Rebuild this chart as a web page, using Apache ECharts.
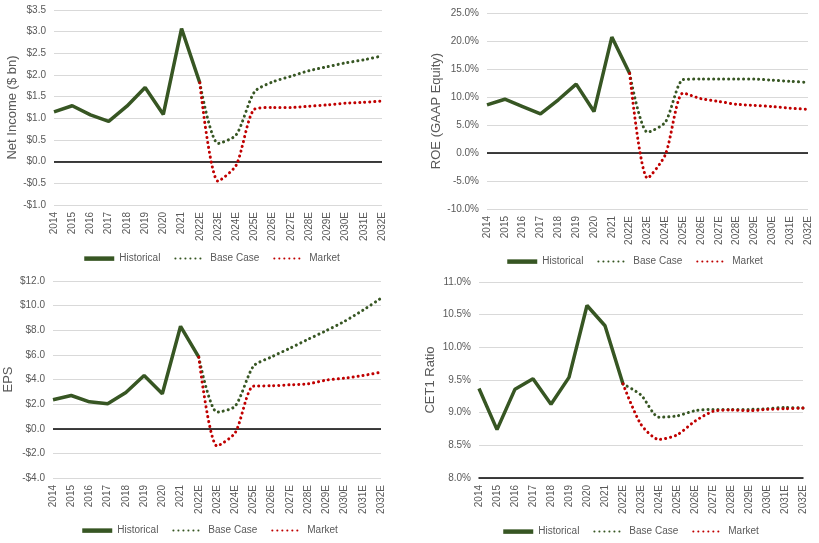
<!DOCTYPE html>
<html style="height: 100%">
<head>
<meta charset="utf-8">
<script src="https://cdn.jsdelivr.net/npm/echarts@6/dist/echarts.min.js"></script>
</head>
<body style="height: 100%; margin: 0; background: #fff">
<div id="container" style="width: 819px; height: 543px"></div>
<script type="text/javascript">
// categories
var years = ['2014', '2015', '2016', '2017', '2018', '2019', '2020', '2021',
  '2022E', '2023E', '2024E', '2025E', '2026E', '2027E', '2028E', '2029E', '2030E', '2031E', '2032E'];

// Net Income ($ bn): historical 2014-2022E, scenarios 2022E-2032E
var niHist = [1.15, 1.29, 1.08, 0.93, 1.28, 1.71, 1.09, 3.07, 1.82];
var niBase = [1.82, 0.42, 0.62, 1.61, 1.84, 1.97, 2.10, 2.19, 2.28, 2.35, 2.44];
var niMarket = [1.82, -0.45, -0.08, 1.21, 1.25, 1.25, 1.28, 1.31, 1.35, 1.37, 1.40];

// ROE (GAAP Equity), %
var roeHist = [8.6, 9.6, 8.3, 7.0, 9.5, 12.3, 7.4, 20.7, 14.2];
var roeBase = [14.2, 3.7, 5.5, 13.1, 13.2, 13.2, 13.2, 13.2, 13.0, 12.8, 12.6];
var roeMarket = [14.2, -4.5, -0.3, 10.7, 9.7, 9.2, 8.7, 8.5, 8.3, 8.0, 7.8];

// EPS ($)
var epsHist = [2.35, 2.70, 2.19, 2.03, 2.95, 4.32, 2.84, 8.32, 5.81];
var epsBase = [5.81, 1.35, 1.84, 5.08, 5.84, 6.54, 7.27, 7.97, 8.73, 9.62, 10.6];
var epsMarket = [5.81, -1.40, -0.32, 3.46, 3.49, 3.57, 3.65, 3.95, 4.11, 4.32, 4.60];

// CET1 Ratio, %
var cetHist = [9.37, 8.74, 9.36, 9.52, 9.13, 9.54, 10.64, 10.33, 9.44];
var cetBase = [9.44, 9.27, 8.93, 8.95, 9.03, 9.05, 9.05, 9.05, 9.06, 9.08, 9.07];
var cetMarket = [9.44, 8.82, 8.59, 8.66, 8.87, 9.02, 9.04, 9.03, 9.05, 9.06, 9.07];

var dom = document.getElementById('container');
var myChart = echarts.init(dom);

var GREEN = '#375623';
var RED = '#c00000';
var GREY = '#595959';
var FONT = 'Liberation Sans';
var DOTS = [0.1, 4.9];

function padHist(arr) {
  var out = arr.slice();
  while (out.length < years.length) out.push(null);
  return out;
}
function padScen(arr) {
  var out = [];
  for (var i = 0; i < years.length - arr.length; i++) out.push(null);
  return out.concat(arr);
}
function money(v) {
  return (v < 0 ? '-$' : '$') + Math.abs(v).toFixed(1);
}
function pct(v) {
  return v.toFixed(1) + '%';
}

var panels = [
  { title: 'Net Income ($ bn)', hist: niHist, base: niBase, market: niMarket,
    min: -1, max: 3.5, interval: 0.5, fmt: money, zero: true, gap: 34,
    grid: { left: 54, top: 10, width: 328, height: 195 }, legend: { left: 77, top: 248 } },
  { title: 'ROE (GAAP Equity)', hist: roeHist, base: roeBase, market: roeMarket,
    min: -10, max: 25, interval: 5, fmt: pct, zero: true, gap: 42,
    grid: { left: 487, top: 13, width: 321, height: 196 }, legend: { left: 500, top: 251 } },
  { title: 'EPS', hist: epsHist, base: epsBase, market: epsMarket,
    min: -4, max: 12, interval: 2, fmt: money, zero: true, gap: 38,
    grid: { left: 53, top: 281, width: 328, height: 197 }, legend: { left: 75, top: 520 } },
  { title: 'CET1 Ratio', hist: cetHist, base: cetBase, market: cetMarket,
    min: 8, max: 11, interval: 0.5, fmt: pct, zero: false, gap: 42,
    grid: { left: 479, top: 282, width: 324, height: 196 }, legend: { left: 496, top: 521 } }
];

var grids = [], xAxes = [], yAxes = [], series = [], legends = [];

panels.forEach(function (p, i) {
  grids.push(p.grid);
  xAxes.push({
    type: 'category', gridIndex: i, data: years, boundaryGap: false,
    axisTick: { show: false },
    axisLine: { show: !p.zero, onZero: false, lineStyle: { color: '#000', width: 1.5 } },
    axisLabel: { rotate: 90, interval: 0, margin: 7, color: GREY, fontSize: 10, fontFamily: FONT }
  });
  yAxes.push({
    type: 'value', gridIndex: i, min: p.min, max: p.max, interval: p.interval,
    name: p.title, nameLocation: 'middle', nameGap: p.gap,
    nameTextStyle: { color: GREY, fontSize: 13, fontFamily: FONT },
    axisLine: { show: false }, axisTick: { show: false },
    axisLabel: { formatter: p.fmt, color: GREY, fontSize: 10, fontFamily: FONT, margin: 8 },
    splitLine: { lineStyle: { color: '#d9d9d9', width: 1 } }
  });
  var hist = {
    name: 'Historical', type: 'line', xAxisIndex: i, yAxisIndex: i,
    data: padHist(p.hist), symbol: 'none', z: 3,
    lineStyle: { color: GREEN, width: 3.5 }, itemStyle: { color: GREEN }
  };
  if (p.zero) {
    hist.markLine = {
      silent: true, symbol: ['none', 'none'], label: { show: false },
      lineStyle: { color: '#000', width: 1.5, type: 'solid' },
      data: [{ yAxis: 0 }]
    };
  }
  series.push(hist);
  series.push({
    name: 'Base Case', type: 'line', xAxisIndex: i, yAxisIndex: i,
    data: padScen(p.base), symbol: 'none', smooth: 0.25, z: 4,
    lineStyle: { color: GREEN, width: 3, type: DOTS, cap: 'round' }, itemStyle: { color: GREEN }
  });
  series.push({
    name: 'Market', type: 'line', xAxisIndex: i, yAxisIndex: i,
    data: padScen(p.market), symbol: 'none', smooth: 0.25, z: 5,
    lineStyle: { color: RED, width: 3, type: DOTS, cap: 'round' }, itemStyle: { color: RED }
  });
  legends.push({
    left: p.legend.left, top: p.legend.top, itemWidth: 30, itemHeight: 14, itemGap: 14,
    data: [
      { name: 'Historical', lineStyle: { width: 4.5 } },
      { name: 'Base Case' },
      { name: 'Market' }
    ],
    itemStyle: { opacity: 0 },
    textStyle: { color: GREY, fontSize: 10, fontFamily: FONT }
  });
});

var option = {
  animation: false,
  backgroundColor: '#fff',
  grid: grids,
  xAxis: xAxes,
  yAxis: yAxes,
  legend: legends,
  series: series
};

if (option && typeof option === 'object') {
  myChart.setOption(option);
}
</script>
</body>
</html>
